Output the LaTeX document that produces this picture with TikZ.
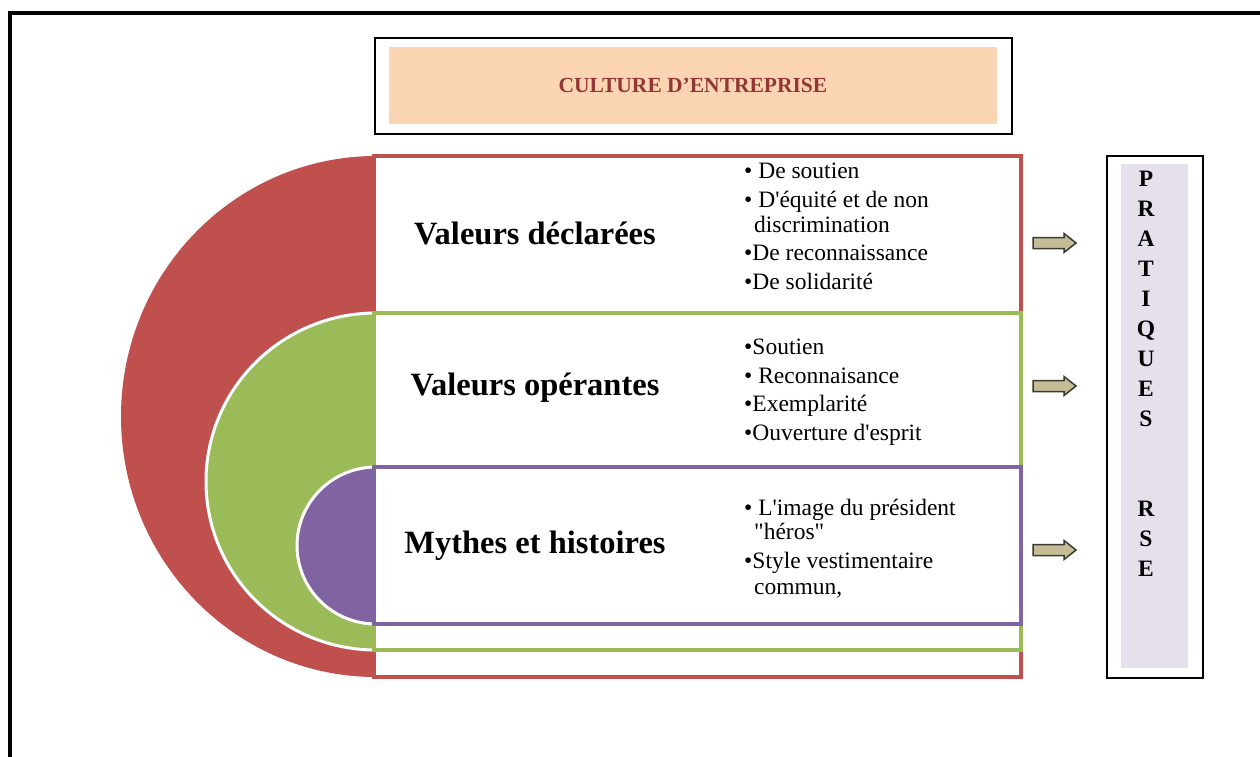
\documentclass[tikz,border=0pt]{standalone}
\usepackage{fontspec}
\setmainfont{Liberation Serif}[Ligatures=TeXOff]
\definecolor{cred}{HTML}{C0504D}
\definecolor{cgreen}{HTML}{9BBB59}
\definecolor{cpurple}{HTML}{8064A2}
\definecolor{peach}{HTML}{FBD4B4}
\definecolor{lavender}{HTML}{E5E0EC}
\definecolor{titlered}{HTML}{943634}
\definecolor{arrowtan}{HTML}{C4BD97}
\definecolor{arrowline}{HTML}{3A3A30}
\tikzset{
  lbl/.style={font=\fontsize{32.5}{38}\selectfont\bfseries, inner sep=0},
  itm/.style={font=\fontsize{23.5}{28}\selectfont, anchor=base west, inner sep=0},
  ltr/.style={font=\fontsize{23.5}{28}\selectfont\bfseries, anchor=base, inner sep=0},
  band/.style={line width=3.5, fill=white},
  rim/.style={draw=white, line width=3},
  arr/.style={fill=arrowtan, draw=arrowline, line width=1.5, line join=miter},
  barrow/.pic={\path[arr] (0,5.5) -- (31,5.5) -- (31,9.5) -- (43,0) -- (31,-9.5) -- (31,-5.5) -- (0,-5.5) -- cycle;}
}
\begin{document}
\begin{tikzpicture}[x=1pt,y=1pt]
\useasboundingbox (0,0) rectangle (1260,-756);
\begin{scope}
\clip (0,0) rectangle (1260,-756);
\draw[line width=4] (10,-13) rectangle (1290,-790);
\end{scope}

% title
\node[draw=black, line width=2, minimum width=637, minimum height=96, inner sep=0] (titlebox) at (693.5,-86) {};
\node[fill=peach, minimum width=608, minimum height=77, inner sep=0, text=titlered,
      font=\fontsize{21.5}{26}\selectfont\bfseries] (title) at (693,-85.5) {CULTURE D’ENTREPRISE};

% red layer
\fill[cred] (376,-156) arc[start angle=90, end angle=270, x radius=255, y radius=260.5] -- cycle;
\draw[band, draw=cred] (374,-156) rectangle (1021,-677);
% green layer
\fill[cgreen] (376,-313) arc[start angle=90, end angle=270, x radius=170, y radius=168.5] -- cycle;
\draw[rim] (376,-313) arc[start angle=90, end angle=270, x radius=170, y radius=168.5];
\draw[band, draw=cgreen] (374,-313) rectangle (1021,-650);
% purple layer
\fill[cpurple] (376,-467) arc[start angle=90, end angle=270, x radius=79, y radius=78.5] -- cycle;
\draw[rim] (376,-467) arc[start angle=90, end angle=270, x radius=79, y radius=78.5];
\draw[band, draw=cpurple] (374,-467) rectangle (1021,-624);

% labels
\node[lbl] (vd) at (535,-233) {Valeurs déclarées};
\node[lbl] (vo) at (535,-388) {Valeurs opérantes};
\node[lbl] (mh) at (535,-546) {Mythes et histoires};

% items box 1
\node[itm] (a1) at (744,-178) {\textbullet\ De soutien};
\node[itm] (a2) at (744,-207) {\textbullet\ D'équité et de non};
\node[itm] (a3) at (754,-232) {discrimination};
\node[itm] (a4) at (744,-260) {\textbullet De reconnaissance};
\node[itm] (a5) at (744,-289) {\textbullet De solidarité};
% items box 2
\node[itm] (b1) at (744,-354) {\textbullet Soutien};
\node[itm] (b2) at (744,-383) {\textbullet\ Reconnaisance};
\node[itm] (b3) at (744,-411) {\textbullet Exemplarité};
\node[itm] (b4) at (744,-440) {\textbullet Ouverture d'esprit};
% items box 3
\node[itm] (c1) at (744,-515) {\textbullet\ L'image du président};
\node[itm] (c2) at (754,-539) {"héros"};
\node[itm] (c3) at (744,-568) {\textbullet Style vestimentaire};
\node[itm] (c4) at (754,-594) {commun,};

% arrows
\pic (ar1) at (1033,-243) {barrow};
\pic (ar2) at (1033,-386) {barrow};
\pic (ar3) at (1033,-550) {barrow};

% pratiques box
\node[draw=black, line width=2, minimum width=96, minimum height=522, inner sep=0] (pbox) at (1155,-417) {};
\node[fill=lavender, minimum width=67, minimum height=504, inner sep=0] (pfill) at (1154.5,-416) {};
\foreach \L [count=\i] in {P,R,A,T,I,Q,U,E,S} {
  \node[ltr] (p\i) at (1146,{-186-30*(\i-1)}) {\L};
}
\foreach \L [count=\i] in {R,S,E} {
  \node[ltr] (r\i) at (1146,{-516-30*(\i-1)}) {\L};
}
\end{tikzpicture}
\end{document}
